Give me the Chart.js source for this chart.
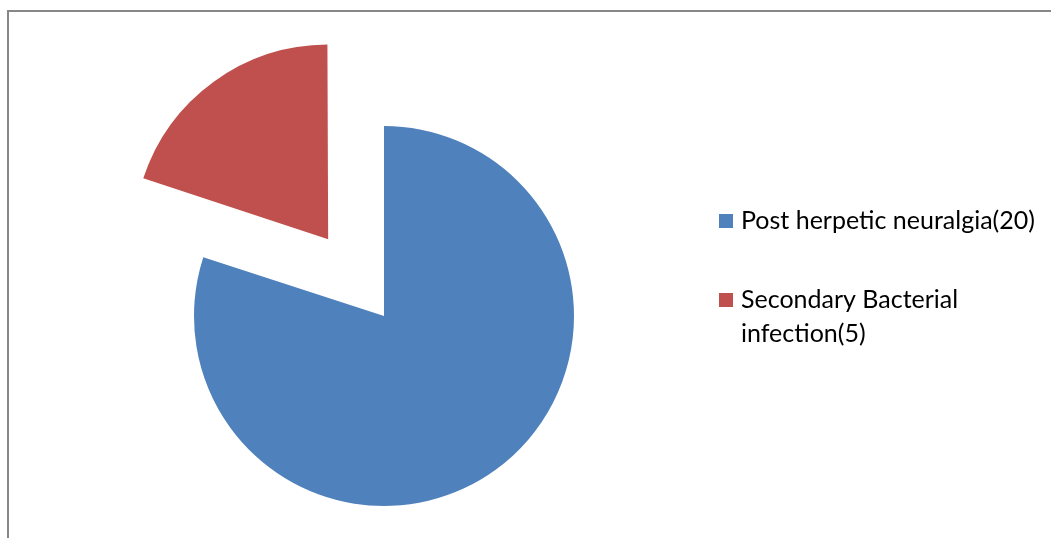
<!DOCTYPE html>
<html>
<head>
<meta charset="utf-8">
<script src="https://cdn.jsdelivr.net/npm/chart.js@4.4.1/dist/chart.umd.min.js"></script>
<style>
  html, body { margin: 0; padding: 0; background: #fff; }
  #wrap { position: relative; width: 1051px; height: 538px; }
  #frame {
    position: absolute; left: 7px; top: 10px; right: 0; bottom: 0;
    border-left: 2px solid #878787; border-top: 2px solid #878787;
    pointer-events: none;
  }
  canvas { position: absolute; left: 0; top: 0; }
</style>
</head>
<body>
<div id="wrap">
  <canvas id="pieChart" width="1051" height="538"></canvas>
  <div id="frame"></div>
</div>
<script>
const categories = ["Post herpetic neuralgia(20)", "Secondary Bacterial infection(5)"];
const counts = [20, 5];
const sliceColors = ["#4F81BD", "#C0504D"];
const explode = [0, 380]; // chart.js moves a slice by offset / 4

// legend at the right, wrapped like the office chart legend
const sideLegend = {
  id: "sideLegend",
  afterDraw(chart) {
    const ctx = chart.ctx;
    const labels = chart.data.labels;
    const colors = chart.data.datasets[0].backgroundColor;
    const rowTops = [229, 308];
    const maxWidth = 300;
    const lineHeight = 34;
    ctx.save();
    ctx.font = "25px Lato";
    ctx.textBaseline = "alphabetic";
    ctx.fillStyle = "#000";
    labels.forEach((label, i) => {
      // split label into lines that fit maxWidth
      const words = label.split(" ");
      const lines = [];
      let line = "";
      for (const w of words) {
        const test = line ? line + " " + w : w;
        if (ctx.measureText(test).width > maxWidth && line) {
          lines.push(line);
          line = w;
        } else {
          line = test;
        }
      }
      lines.push(line);
      const base = rowTops[i];
      ctx.fillStyle = colors[i];
      ctx.fillRect(719, base - 15, 14, 14);
      ctx.fillStyle = "#000";
      lines.forEach((l, j) => ctx.fillText(l, 741, base + j * lineHeight));
    });
    ctx.restore();
  },
};

new Chart(document.getElementById("pieChart"), {
  type: "pie",
  data: {
    labels: categories,
    datasets: [
      {
        data: counts,
        backgroundColor: sliceColors,
        borderWidth: 0,
        offset: explode,
        hoverOffset: 0,
      },
    ],
  },
  options: {
    responsive: false,
    animation: false,
    radius: 190,
    layout: { padding: { left: 0, right: 283, top: 94, bottom: 0 } },
    plugins: {
      legend: { display: false },
      tooltip: { enabled: false },
    },
  },
  plugins: [sideLegend],
});
</script>
</body>
</html>
